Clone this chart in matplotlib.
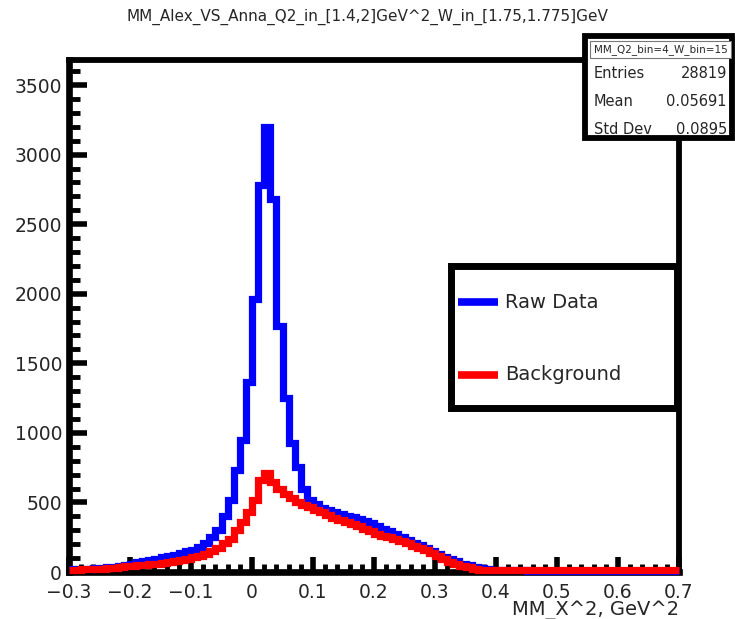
import numpy as np
import matplotlib
matplotlib.use("Agg")
import matplotlib.pyplot as plt
from matplotlib.patches import Rectangle
from matplotlib.lines import Line2D
from matplotlib.ticker import MultipleLocator, FixedLocator, FixedFormatter

plt.rcParams['font.family'] = ['DejaVu Sans']

# ---- histogram data: 100 bins of width 0.01 on [-0.3, 0.7] ----
bin_edges = np.round(np.linspace(-0.3, 0.7, 101), 4)

raw_data = [
    # -0.30 .. -0.21
    18, 20, 22, 24, 27, 30, 33, 37, 42, 48,
    # -0.20 .. -0.11
    60, 70, 80, 86, 95, 105, 115, 122, 135, 150,
    # -0.10 .. -0.01
    160, 180, 210, 250, 300, 400, 520, 735, 950, 1364,
    # 0.00 .. 0.09
    1964, 2780, 3200, 2680, 1770, 1250, 930, 757, 593, 520,
    # 0.10 .. 0.19
    486, 460, 445, 430, 415, 405, 395, 380, 365, 350,
    # 0.20 .. 0.29
    330, 312, 292, 272, 252, 232, 212, 192, 170, 150,
    # 0.30 .. 0.39
    130, 110, 92, 76, 60, 47, 36, 26, 18, 14,
    # 0.40 .. 0.49
    12, 12, 11, 11, 11, 10, 10, 10, 10, 10,
    # 0.50 .. 0.59
    10, 10, 10, 10, 10, 10, 10, 10, 10, 10,
    # 0.60 .. 0.69
    10, 10, 10, 10, 10, 10, 10, 10, 10, 10,
]

background = [
    # -0.30 .. -0.21
    14, 16, 18, 20, 22, 25, 28, 31, 35, 40,
    # -0.20 .. -0.11
    43, 47, 51, 55, 60, 65, 70, 77, 85, 95,
    # -0.10 .. -0.01
    105, 118, 132, 150, 175, 205, 240, 300, 357, 430,
    # 0.00 .. 0.09
    520, 664, 714, 650, 600, 560, 530, 500, 480, 464,
    # 0.10 .. 0.19
    445, 430, 410, 390, 375, 360, 345, 330, 310, 295,
    # 0.20 .. 0.29
    275, 262, 248, 235, 220, 205, 190, 172, 155, 138,
    # 0.30 .. 0.39
    118, 95, 75, 58, 44, 33, 24, 17, 14, 12,
    # 0.40 .. 0.49
    12, 12, 12, 12, 12, 12, 12, 12, 12, 12,
    # 0.50 .. 0.59
    12, 12, 12, 12, 12, 12, 12, 12, 12, 12,
    # 0.60 .. 0.69
    12, 12, 12, 12, 12, 12, 12, 12, 12, 12,
]

x_ticks = [-0.3, -0.2, -0.1, 0.0, 0.1, 0.2, 0.3, 0.4, 0.5, 0.6, 0.7]
x_tick_labels = ['\u22120.3', '\u22120.2', '\u22120.1', '0', '0.1', '0.2',
                 '0.3', '0.4', '0.5', '0.6', '0.7']
y_ticks = [0, 500, 1000, 1500, 2000, 2500, 3000, 3500]
y_tick_labels = ['0', '500', '1000', '1500', '2000', '2500', '3000', '3500']

title = 'MM_Alex_VS_Anna_Q2_in_[1.4,2]GeV^2_W_in_[1.75,1.775]GeV'
x_label = 'MM_X^2, GeV^2'
stats_title = 'MM_Q2_bin=4_W_bin=15'
stats_rows = [('Entries', '28819'), ('Mean', '0.05691'), ('Std Dev', '0.0895')]
legend_labels = ['Raw Data', 'Background']

BLUE = '#0000ff'
RED = '#ff0000'
TXT = '#262626'

W, H = 735, 619
fig = plt.figure(figsize=(W / 100, H / 100), dpi=100)

# main frame, in pixel terms: x 69..679, y 60..572
ax = fig.add_axes([69 / W, 1 - 572 / H, 610 / W, 512 / H])
ax.set_xlim(-0.3, 0.7)
ax.set_ylim(0, 3680)

ax.stairs(raw_data, bin_edges, baseline=None, color=BLUE, linewidth=5.2,
          zorder=3, clip_on=False, joinstyle='miter')
ax.stairs(background, bin_edges, baseline=None, color=RED, linewidth=5.2,
          zorder=4, clip_on=False, joinstyle='miter')

for side in ['left', 'bottom']:
    ax.spines[side].set_linewidth(4.8)
for side in ['top', 'right']:
    ax.spines[side].set_linewidth(4.2)
for side in ax.spines:
    ax.spines[side].set_color('black')

ax.xaxis.set_major_locator(FixedLocator(x_ticks))
ax.xaxis.set_major_formatter(FixedFormatter(x_tick_labels))
ax.xaxis.set_minor_locator(MultipleLocator(0.02))
ax.yaxis.set_major_locator(FixedLocator(y_ticks))
ax.yaxis.set_major_formatter(FixedFormatter(y_tick_labels))
ax.yaxis.set_minor_locator(MultipleLocator(100))

ax.tick_params(axis='both', which='both', direction='in', top=False,
               right=False, color='black')
ax.tick_params(axis='x', which='major', length=11, width=4, pad=8,
               labelsize=13.5, labelcolor=TXT)
ax.tick_params(axis='x', which='minor', length=6, width=3.5)
ax.tick_params(axis='y', which='major', length=13, width=4, pad=5,
               labelsize=13.5, labelcolor=TXT)
ax.tick_params(axis='y', which='minor', length=8, width=3.5)

ax.set_xlabel(x_label, loc='right', fontsize=14, color=TXT, labelpad=-1)

# overlay in pixel coordinates for title, stats box and legend
ov = fig.add_axes([0, 0, 1, 1], zorder=10)
ov.set_xlim(0, W)
ov.set_ylim(H, 0)
ov.axis('off')

ov.text(367, 17, title, ha='center', va='center', fontsize=11, color=TXT)

# statistics box
ov.add_patch(Rectangle((585, 36), 147, 102, facecolor='white',
                       edgecolor='black', linewidth=4.2, joinstyle='miter'))
ov.add_patch(Rectangle((590, 41), 141, 17, facecolor='white',
                       edgecolor='#777777', linewidth=0.8))
ov.text(660.5, 49.5, stats_title, ha='center', va='center', fontsize=7.5,
        color=TXT)
for (name, val), yy in zip(stats_rows, [73, 101, 129]):
    ov.text(594, yy, name, ha='left', va='center', fontsize=10.5, color=TXT)
    ov.text(727, yy, val, ha='right', va='center', fontsize=10.5, color=TXT)

# legend box
ov.add_patch(Rectangle((451, 266), 226, 142, facecolor='white',
                       edgecolor='black', linewidth=5, joinstyle='miter'))
for color, label, yy in zip([BLUE, RED], legend_labels, [302, 375]):
    ov.add_line(Line2D([458, 498], [yy, yy], color=color, linewidth=5.5,
                       solid_capstyle='butt'))
    ov.text(505, yy, label, ha='left', va='center', fontsize=14, color=TXT)

fig.savefig('out.png', dpi=100)
